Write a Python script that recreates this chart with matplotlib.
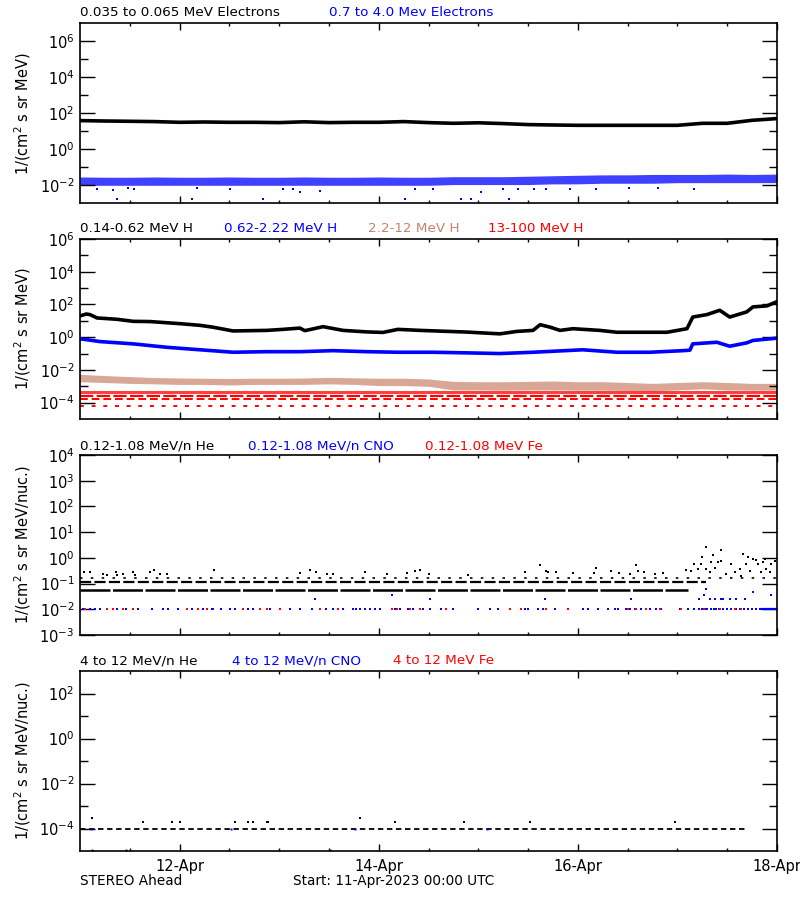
import numpy as np
import matplotlib
matplotlib.use("Agg")
import matplotlib.pyplot as plt
from matplotlib.ticker import FixedLocator, FuncFormatter
from datetime import datetime, timedelta

START = datetime(2023, 4, 11)
BLUE = "#0000ff"
TAN = "#c8826a"
RED = "#ff0000"

# time grid, hours since 11-Apr-2023 00:00 UTC
t6 = np.arange(0, 169, 6)

# ---- panel 1: electrons
e_low = [39.3, 37.3, 36.0, 34.6, 31.6, 32.9, 31.6, 31.6, 30.4, 33.7, 30.4, 31.6, 31.6, 34.6, 30.4,
         27.8, 29.7, 26.8, 23.6, 22.4, 21.5, 21.5, 21.5, 21.5, 21.5, 27.8, 27.8, 40.8, 50.8]
e_hi_lo = [0.010, 0.010, 0.010, 0.010, 0.010, 0.010, 0.010, 0.010, 0.010, 0.010, 0.010, 0.010, 0.010, 0.010, 0.010,
           0.011, 0.011, 0.011, 0.011, 0.012, 0.012, 0.013, 0.013, 0.013, 0.014, 0.014, 0.014, 0.014, 0.014]
e_hi_up = [0.029, 0.028, 0.028, 0.029, 0.028, 0.028, 0.029, 0.028, 0.028, 0.029, 0.028, 0.028, 0.029, 0.028, 0.028,
           0.030, 0.030, 0.030, 0.032, 0.034, 0.036, 0.038, 0.038, 0.040, 0.040, 0.040, 0.042, 0.040, 0.042]
e_hi_out_h = [4.0, 8.0, 8.8, 11.6, 12.9, 26.9, 28.1, 36.2, 44.1, 49.0, 51.4, 53.0, 57.8, 78.3, 80.7, 85.1,
              91.8, 94.2, 96.6, 101.9, 103.3, 105.5, 109.5, 112.4, 118.0, 124.4, 132.4, 139.2, 148.0]
e_hi_out_v = [0.006, 0.0055, 0.0017, 0.0075, 0.006, 0.0017, 0.007, 0.006, 0.0017, 0.006, 0.006, 0.0045, 0.0047,
              0.0017, 0.006, 0.0065, 0.0017, 0.0017, 0.0045, 0.006, 0.0017, 0.006, 0.0065, 0.006, 0.006, 0.0065,
              0.0075, 0.007, 0.0065]

# ---- panel 2: protons
h1_t = [0, 1.5, 2.4, 4.1, 8.9, 12.8, 16.9, 24.1, 28.9, 32.0, 36.9, 45.0, 48.9, 53.0, 54.2, 58.6, 63.4, 69.2,
        73.0, 76.6, 82.0, 93.3, 101.2, 105.3, 109.2, 110.9, 113.3, 115.7, 118.8, 125.3, 129.4, 141.5, 146.3,
        147.7, 151.1, 154.2, 156.6, 160.7, 162.2, 165.6, 167.9]
h1_v = [20, 26, 24, 15, 12.4, 9.3, 9.0, 6.7, 5.3, 4.1, 2.4, 2.6, 3.0, 3.6, 2.5, 4.4, 2.6, 2.1,
        1.95, 3.0, 2.6, 2.05, 1.6, 2.25, 2.6, 5.8, 4.1, 2.6, 3.3, 2.6, 2.0, 2.0, 3.3,
        17, 24, 44, 17, 35, 71, 82, 145]
h2_t = [0, 4.8, 12.8, 21.0, 28.9, 36.9, 45.0, 53.0, 61.0, 69.2, 76.6, 85.0, 93.3, 101.2, 109.2, 121.2,
        129.4, 137.4, 145.3, 147.0, 147.7, 153.5, 156.6, 160.7, 162.2, 167.9]
h2_v = [0.8, 0.54, 0.39, 0.24, 0.17, 0.12, 0.13, 0.13, 0.15, 0.13, 0.12, 0.12, 0.11, 0.10, 0.12, 0.17,
        0.12, 0.12, 0.15, 0.16, 0.39, 0.49, 0.28, 0.45, 0.63, 0.87]
h3_lo = [1.9e-3, 1.7e-3, 1.5e-3, 1.4e-3, 1.3e-3, 1.3e-3, 1.2e-3, 1.3e-3, 1.3e-3, 1.3e-3, 1.4e-3, 1.3e-3,
         1.1e-3, 1.1e-3, 1.0e-3, 6.0e-4, 6.0e-4, 5.8e-4, 6.0e-4, 6.0e-4, 5.8e-4, 5.8e-4, 5.5e-4, 5.3e-4,
         6.0e-4, 7.0e-4, 6.0e-4, 5.8e-4, 5.8e-4]
h3_up = [5.4e-3, 4.5e-3, 3.9e-3, 3.4e-3, 3.2e-3, 3.1e-3, 3.0e-3, 3.1e-3, 3.1e-3, 3.2e-3, 3.5e-3, 3.3e-3,
         3.1e-3, 3.1e-3, 2.8e-3, 2.0e-3, 1.9e-3, 1.9e-3, 2.0e-3, 2.1e-3, 1.9e-3, 1.9e-3, 1.7e-3, 1.5e-3,
         1.7e-3, 1.9e-3, 1.7e-3, 1.5e-3, 1.5e-3]
h4_band = [3.4e-4, 5.2e-4]
h4_rows = [2.6e-4, 1.65e-4, 6.2e-5]

# ---- panel 3: low energy ions
he_rows = [0.054, 0.115, 0.17]
he_row_end = [146.5, 151.0, 168.0]
he_pts_h = [1.0, 2.4, 5.6, 6.4, 8.7, 8.8, 10.4, 12.8, 13.3, 16.9, 17.8, 19.3, 21.0, 32.3, 53.0, 55.4, 57.0,
            59.5, 61.0, 68.7, 73.9, 78.7, 80.7, 82.0, 84.0, 93.5, 107.3, 110.8, 112.4, 112.8, 114.8, 118.8,
            124.4, 124.0, 128.0, 130.0, 132.5, 134.0, 134.5, 136.0, 138.5, 140.5,
            150.8, 154.6, 159.8, 150.0, 152.6, 148.1, 149.7, 152.2, 153.8, 154.6, 149.0, 151.0, 153.0, 151.8,
            147.3, 146.1, 157.0, 157.8, 159.0, 160.6, 161.4, 162.2, 163.4, 164.6, 165.4, 166.6, 167.4, 164.2,
            166.2, 159.4, 155.8, 161.0, 163.0, 165.0]
he_pts_v = [0.28, 0.28, 0.23, 0.21, 0.28, 0.21, 0.23, 0.27, 0.21, 0.28, 0.33, 0.23, 0.23, 0.34, 0.25, 0.33, 0.27,
            0.23, 0.23, 0.28, 0.23, 0.25, 0.31, 0.34, 0.23, 0.21, 0.28, 0.53, 0.31, 0.27, 0.27, 0.25,
            0.42, 0.25, 0.31, 0.25, 0.23, 0.53, 0.31, 0.27, 0.23, 0.25,
            2.7, 1.96, 1.45, 1.07, 1.24, 0.58, 0.58, 0.67, 0.67, 0.78, 0.36, 0.38, 0.42, 0.27,
            0.31, 0.34, 0.58, 0.27, 0.36, 0.58, 0.31, 0.91, 0.58, 0.67, 0.36, 0.58, 0.78, 0.27,
            0.27, 0.20, 0.23, 1.07, 0.85, 0.91]
cno_h = [0.8, 2.4, 3.6, 4.8, 8.8, 11.2, 14.1, 17.3, 20.1, 21.3, 23.7, 26.9, 29.7, 31.7, 32.1, 34.1, 36.1, 37.3,
         40.6, 41.8, 45.8, 50.6, 53.0, 55.8, 59.4, 61.0, 63.4, 65.8, 66.6, 67.5, 68.7, 69.9, 71.1, 72.3, 75.9,
         77.1, 79.1, 80.3, 82.7, 84.3, 87.1, 89.9, 95.9, 98.8, 100.8, 107.2, 108.0, 110.4, 111.6, 114.4, 117.6,
         121.2, 122.4, 124.9, 127.3, 128.9, 129.7, 131.7, 132.5, 133.7, 135.3, 137.3, 138.9, 140.1, 144.5,
         146.5, 148.1, 149.3, 150.0, 150.6, 151.2, 152.0, 152.8, 153.4, 154.0, 155.0, 156.0, 157.0, 158.0,
         159.0, 160.0, 161.0, 162.0, 163.0, 164.0]
cno_level = 0.0105
cno_cont = [164.2, 168.0]
cno_x_h = [56.6, 75.2, 84.3, 112.2, 132.9, 149.3, 150.5, 151.0, 151.8, 153.0, 154.6, 155.0, 156.6, 158.2,
           160.2, 162.2, 166.6]
cno_x_v = [0.0245, 0.036, 0.0245, 0.0245, 0.0245, 0.0245, 0.036, 0.061, 0.0245, 0.0245, 0.0245, 0.0245,
           0.0245, 0.0245, 0.0245, 0.049, 0.036]
fe_h = [1.2, 6.4, 8.0, 10.4, 12.8, 25.7, 28.5, 30.5, 39.3, 43.4, 45.0, 48.2, 57.8, 62.2, 75.1, 76.3, 79.5,
        81.9, 88.3, 103.6, 106.4, 112.4, 117.6, 132.1, 134.1, 136.5, 139.7, 144.9, 150.5, 154.2, 157.8, 159.4]

# ---- panel 4: high energy ions
he4_level = 1e-4
he4_end = 160.2
he4_pts_h = [2.8, 15.3, 22.1, 24.1, 37.3, 40.6, 41.8, 45.0, 45.4, 67.5, 75.9, 92.6, 108.4, 143.3]
he4_pts_v = [2.8e-4, 1.85e-4, 1.85e-4, 1.85e-4, 1.85e-4, 1.85e-4, 1.85e-4, 1.85e-4, 1.85e-4, 2.8e-4,
             1.85e-4, 1.85e-4, 1.85e-4, 1.85e-4]
cno4_h = [2.6, 36.5, 66.2, 98.0, 2.8, 11.1, 60.2]
cno4_v = [1e-4, 1e-4, 1e-4, 1e-4, 1.15e-5, 1.15e-5, 1.15e-5]

titles = [
    [("0.035 to 0.065 MeV Electrons", "black", 80), ("0.7 to 4.0 Mev Electrons", BLUE, 329)],
    [("0.14-0.62 MeV H", "black", 80), ("0.62-2.22 MeV H", BLUE, 224),
     ("2.2-12 MeV H", TAN, 368), ("13-100 MeV H", RED, 488)],
    [("0.12-1.08 MeV/n He", "black", 80), ("0.12-1.08 MeV/n CNO", BLUE, 248),
     ("0.12-1.08 MeV Fe", RED, 425)],
    [("4 to 12 MeV/n He", "black", 80), ("4 to 12 MeV/n CNO", BLUE, 232), ("4 to 12 MeV Fe", RED, 393)],
]
title_y = [13, 229, 446, 661]
ylims = [(1e-3, 1e7), (1e-5, 1e6), (1e-3, 1e4), (1e-5, 1e3)]
major_exp = [[-2, 0, 2, 4, 6], [-4, -2, 0, 2, 4, 6], [-3, -2, -1, 0, 1, 2, 3, 4], [-4, -2, 0, 2]]
minor_exp = [[-1, 1, 3, 5], [-3, -1, 1, 3, 5], [], [-3, -1, 1]]
ylabels = ["1/(cm$^2$ s sr MeV)", "1/(cm$^2$ s sr MeV)",
           "1/(cm$^2$ s sr MeV/nuc.)", "1/(cm$^2$ s sr MeV/nuc.)"]
bottoms_px = [203.3, 419, 635, 851]

fig = plt.figure(figsize=(8, 9), dpi=100)
W, H = 800.0, 900.0
axes = []
for i in range(4):
    ax = fig.add_axes([80 / W, 1 - bottoms_px[i] / H, 697 / W, 180 / H])
    ax.set_yscale("log")
    ax.set_xlim(0, 168)
    ax.set_ylim(*ylims[i])
    ax.yaxis.set_major_locator(FixedLocator([10.0 ** e for e in major_exp[i]]))
    ax.yaxis.set_minor_locator(FixedLocator([10.0 ** e for e in minor_exp[i]]))
    ax.yaxis.set_major_formatter(FuncFormatter(lambda v, p: "$10^{%d}$" % round(np.log10(v))))
    ax.yaxis.set_minor_formatter(FuncFormatter(lambda v, p: ""))
    ax.xaxis.set_major_locator(FixedLocator([24, 72, 120, 168]))
    ax.xaxis.set_minor_locator(FixedLocator([12, 36, 48, 60, 84, 96, 108, 132, 144, 156]))
    ax.tick_params(which="both", direction="in", top=True, right=True, width=1, colors="black")
    ax.tick_params(axis="y", which="major", length=11, labelsize=10.5, pad=4)
    ax.tick_params(axis="y", which="minor", length=5.5)
    ax.tick_params(axis="x", which="major", length=5, labelsize=10.5, pad=6)
    ax.tick_params(axis="x", which="minor", length=2.5)
    for s in ax.spines.values():
        s.set_linewidth(1.2)
    if i < 3:
        ax.set_xticklabels([])
    else:
        ax.set_xticklabels([(START + timedelta(hours=h)).strftime("%d-%b") for h in [24, 72, 120, 168]])
    ax.set_ylabel(ylabels[i], fontsize=10.5)
    ax.yaxis.set_label_coords(-0.067, 0.5)
    for txt, col, xpx in titles[i]:
        fig.text(xpx / W, 1 - title_y[i] / H, txt, color=col, fontsize=9.7, va="center", ha="left")
    axes.append(ax)

ax1, ax2, ax3, ax4 = axes

# panel 1
ax1.fill_between(t6, e_hi_lo, e_hi_up, color=BLUE, alpha=0.75, lw=0)
ax1.plot(e_hi_out_h, e_hi_out_v, "s", color=BLUE, ms=1.6, mew=0)
ax1.plot(t6, e_low, "-", color="black", lw=2.6)

# panel 2
ax2.fill_between(t6, h3_lo, h3_up, color=TAN, alpha=0.7, lw=0)
ax2.fill_between([0, 168], [h4_band[0]] * 2, [h4_band[1]] * 2, color=RED, alpha=0.75, lw=0)
ax2.hlines(h4_rows[0], 0, 168, color=RED, lw=1.6, linestyles=[(0, (6, 1.5))])
ax2.hlines(h4_rows[1], 0, 168, color=RED, lw=1.4, linestyles=[(0, (4, 2))])
ax2.hlines(h4_rows[2], 0, 168, color=RED, lw=1.4, linestyles=[(0, (2, 4))])
ax2.plot(h2_t, h2_v, "-", color=BLUE, lw=2.6)
ax2.plot(h1_t, h1_v, "-", color="black", lw=2.6)

# panel 3
ax3.hlines(he_rows[0], 0, he_row_end[0], color="black", lw=1.8, linestyles=[(0, (12, 1))])
ax3.hlines(he_rows[1], 0, he_row_end[1], color="black", lw=1.6, linestyles=[(0, (5, 1.5))])
ax3.hlines(he_rows[2], 0, he_row_end[2], color="black", lw=1.2, linestyles=[(0, (1.5, 5))])
ax3.plot(he_pts_h, he_pts_v, "s", color="black", ms=2.0, mew=0)
ax3.plot(cno_h, [cno_level] * len(cno_h), "s", color=BLUE, ms=2.0, mew=0)
ax3.hlines(cno_level, cno_cont[0], cno_cont[1], color=BLUE, lw=1.6)
ax3.plot(cno_x_h, cno_x_v, "s", color=BLUE, ms=1.6, mew=0)
ax3.plot(fe_h, [cno_level] * len(fe_h), "s", color=RED, ms=2.0, mew=0)

# panel 4
ax4.hlines(he4_level, 0, he4_end, color="black", lw=1.3, linestyles=[(0, (3, 2))])
ax4.plot(he4_pts_h, he4_pts_v, "s", color="black", ms=1.8, mew=0)
ax4.plot(cno4_h, cno4_v, "s", color=BLUE, ms=1.4, mew=0)

fig.text(80 / W, 1 - 881 / H, "STEREO Ahead", fontsize=9.8, va="center", ha="left")
fig.text(293 / W, 1 - 881 / H, "Start: " + START.strftime("%d-%b-%Y %H:%M") + " UTC",
         fontsize=9.8, va="center", ha="left")

fig.savefig("out.png", dpi=100, facecolor="white")
